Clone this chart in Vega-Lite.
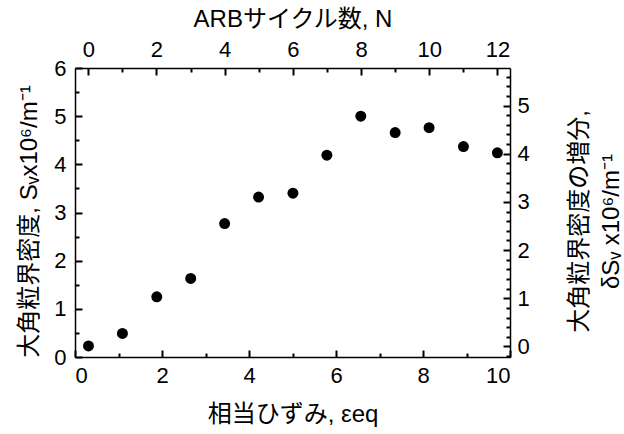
{
  "$schema": "https://vega.github.io/schema/vega-lite/v6.json",
  "width": 435,
  "height": 289,
  "autosize": {"type": "none"},
  "padding": {"left": 75, "top": 68, "right": 114, "bottom": 77},
  "background": "white",
  "config": {
    "view": {"stroke": null},
    "axis": {
      "domainColor": "black",
      "domainWidth": 1.5,
      "labelColor": "black",
      "titleColor": "black",
      "labelFont": "Liberation Sans",
      "labelFontSize": 22,
      "titleFont": "Liberation Sans, Noto Sans CJK JP",
      "titleFontSize": 24,
      "titleFontWeight": "normal",
      "grid": false
    }
  },
  "data": {
    "values": [
      {"N": 0, "eps": 0.31, "S": 0.23, "dS": 0.01},
      {"N": 1, "eps": 1.09, "S": 0.49, "dS": 0.27},
      {"N": 2, "eps": 1.88, "S": 1.25, "dS": 1.03},
      {"N": 3, "eps": 2.66, "S": 1.63, "dS": 1.41},
      {"N": 4, "eps": 3.44, "S": 2.77, "dS": 2.55},
      {"N": 5, "eps": 4.22, "S": 3.32, "dS": 3.1},
      {"N": 6, "eps": 5.01, "S": 3.4, "dS": 3.18},
      {"N": 7, "eps": 5.79, "S": 4.19, "dS": 3.97},
      {"N": 8, "eps": 6.57, "S": 5.0, "dS": 4.78},
      {"N": 9, "eps": 7.36, "S": 4.66, "dS": 4.44},
      {"N": 10, "eps": 8.14, "S": 4.76, "dS": 4.54},
      {"N": 11, "eps": 8.93, "S": 4.37, "dS": 4.15},
      {"N": 12, "eps": 9.71, "S": 4.24, "dS": 4.02}
    ]
  },
  "layer": [
    {
      "mark": {"type": "circle", "color": "black", "size": 120, "opacity": 1},
      "encoding": {
        "x": {
          "field": "eps",
          "type": "quantitative",
          "scale": {"domain": [0, 10], "nice": false, "zero": false},
          "axis": {
            "orient": "bottom",
            "title": "相当ひずみ, εeq",
            "values": [0, 1, 2, 3, 4, 5, 6, 7, 8, 9, 10],
            "labelExpr": "datum.value % 2 === 0 ? format(datum.value, 'd') : ''",
            "ticks": true,
            "tickColor": "black",
            "tickWidth": 2,
            "tickSize": {"condition": {"test": "datum.value % 2 === 0", "value": -7}, "value": -4},
            "labelPadding": 15,
            "titlePadding": 16
          }
        },
        "y": {
          "field": "S",
          "type": "quantitative",
          "scale": {"domain": [0, 6], "nice": false, "zero": false},
          "axis": {
            "orient": "left",
            "title": "大角粒界密度, Sᵥx10⁶/m⁻¹",
            "titleY": 153,
            "values": [0, 0.5, 1, 1.5, 2, 2.5, 3, 3.5, 4, 4.5, 5, 5.5, 6],
            "labelExpr": "datum.value % 1 === 0 ? format(datum.value, 'd') : ''",
            "ticks": true,
            "tickColor": "black",
            "tickWidth": 2,
            "tickSize": {"condition": {"test": "datum.value % 1 === 0", "value": -7}, "value": -4},
            "labelPadding": 16,
            "titlePadding": 12
          }
        }
      }
    },
    {
      "mark": {"type": "circle", "opacity": 0},
      "encoding": {
        "x": {
          "field": "N",
          "type": "quantitative",
          "scale": {"domain": [-0.39, 12.37], "nice": false, "zero": false},
          "axis": {
            "orient": "top",
            "title": "ARBサイクル数, N",
            "values": [0, 1, 2, 3, 4, 5, 6, 7, 8, 9, 10, 11, 12],
            "labelExpr": "datum.value % 2 === 0 ? format(datum.value, 'd') : ''",
            "ticks": true,
            "tickColor": "black",
            "tickWidth": 2,
            "tickSize": {"condition": {"test": "datum.value % 2 === 0", "value": -7}, "value": -4},
            "labelPadding": 14,
            "titlePadding": 7
          }
        },
        "y": {
          "field": "dS",
          "type": "quantitative",
          "scale": {"domain": [-0.22, 5.78], "nice": false, "zero": false},
          "axis": {
            "orient": "right",
            "title": ["大角粒界密度の増分,", "δSᵥ x10⁶/m⁻¹"],
            "titleAngle": 270,
            "titleY": 153,
            "titleLineHeight": 32,
            "values": [-0.2, 0, 0.2, 0.4, 0.6, 0.8, 1, 1.2, 1.4, 1.6, 1.8, 2, 2.2, 2.4, 2.6, 2.8, 3, 3.2, 3.4, 3.6, 3.8, 4, 4.2, 4.4, 4.6, 4.8, 5, 5.2, 5.4, 5.6],
            "labelExpr": "abs(datum.value - round(datum.value)) < 0.01 && datum.value >= 0 ? format(round(datum.value), 'd') : ''",
            "ticks": true,
            "tickColor": "black",
            "tickWidth": 2,
            "tickSize": {"condition": {"test": "abs(datum.value - round(datum.value)) < 0.01", "value": -7}, "value": -4},
            "labelPadding": 14,
            "titlePadding": 30
          }
        }
      }
    }
  ],
  "resolve": {"scale": {"x": "independent", "y": "independent"}}
}
